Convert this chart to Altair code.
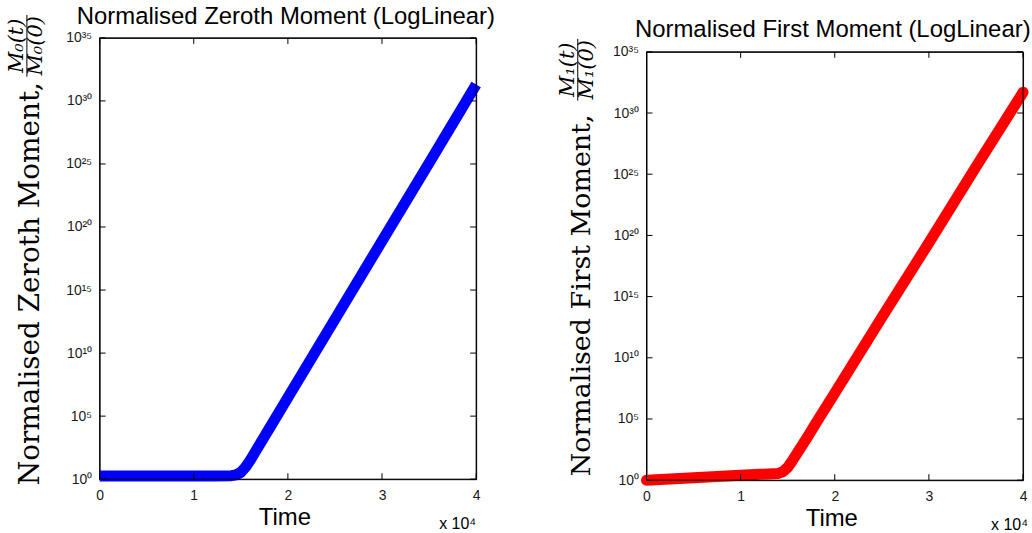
import json
import altair as alt
import pandas as pd

# Zeroth moment M0(t)/M0(0), sampled in time
time_zeroth = [0, 4000, 8000, 12000, 14000, 14500, 15000, 15500, 16000, 17000,
               18000, 20000, 25000, 30000, 35000, 40000]
zeroth = [1.8, 1.8, 1.8, 1.8, 1.9, 2.2, 3.5, 9.0, 32, 560,
          9.8e3, 3.0e6, 4.8e12, 7.8e18, 1.2e25, 2.0e31]

# First moment M1(t)/M1(0)
time_first = [0, 2000, 4000, 6000, 8000, 10000, 12000, 14000, 14500, 15000,
              15500, 16000, 17000, 18000, 20000, 25000, 30000, 35000, 40000]
first = [1.0, 1.2, 1.45, 1.75, 2.1, 2.5, 3.0, 3.5, 5.0, 11,
         40, 160, 2.5e3, 4.5e4, 1.3e7, 2.0e13, 2.5e19, 4.0e25, 5.0e31]

# Axis ticks and their labels
x_ticks = [0, 10000, 20000, 30000, 40000]
x_labels = ["0", "1", "2", "3", "4"]
y_ticks = [1e0, 1e5, 1e10, 1e15, 1e20, 1e25, 1e30, 1e35]
y_labels = ["10⁰", "10⁵", "10¹⁰", "10¹⁵", "10²⁰", "10²⁵", "10³⁰", "10³⁵"]

W = 378
SANS = "Liberation Sans"
SERIF = "DejaVu Serif"
TICK = 6

x_scale = alt.Scale(domain=[0, 40000], nice=False, zero=False)
y_scale = alt.Scale(type="log", domain=[1, 1e35], nice=False)

x_expr = json.dumps(x_labels, ensure_ascii=False) + "[round(datum.value / 10000)]"
y_expr = json.dumps(y_labels, ensure_ascii=False) + "[round(log(datum.value) / LN10 / 5)]"

x_axis = alt.Axis(values=x_ticks, labelExpr=x_expr, title=None, labelPadding=9,
                  labelFlush=False, grid=False, domain=False, ticks=False)
y_axis = alt.Axis(values=y_ticks, labelExpr=y_expr, title=None, labelPadding=8,
                  labelFlush=False, labelBaseline="middle", grid=False,
                  domain=False, ticks=False)


def text_layer(s, x, y, size, font=SANS, angle=0, align="center",
               baseline="alphabetic", style="normal"):
    return alt.Chart(pd.DataFrame({"s": [s]})).mark_text(
        font=font, fontSize=size, angle=angle, align=align, baseline=baseline,
        fontStyle=style, color="black"
    ).encode(text="s:N", x=alt.value(x), y=alt.value(y))


def panel(times, values, color, cap, H, title, title_y, label, label_x, label_y,
          label_size, num, den, frac_y, num_x, den_x, bar_x, exp_x):
    df = pd.DataFrame({"t": times, "v": values})
    line = alt.Chart(df).mark_line(
        color=color, strokeWidth=11, strokeCap=cap, strokeJoin="round", clip=False
    ).encode(
        x=alt.X("t:Q", scale=x_scale, axis=x_axis),
        y=alt.Y("v:Q", scale=y_scale, axis=y_axis),
    )

    ydf = pd.DataFrame({"v": y_ticks})
    xdf = pd.DataFrame({"t": x_ticks})
    ytick_l = alt.Chart(ydf).mark_rule(color="black").encode(
        y=alt.Y("v:Q", scale=y_scale, axis=y_axis), x=alt.value(0), x2=alt.value(TICK))
    ytick_r = alt.Chart(ydf).mark_rule(color="black").encode(
        y=alt.Y("v:Q", scale=y_scale, axis=y_axis), x=alt.value(W - TICK), x2=alt.value(W))
    xtick_b = alt.Chart(xdf).mark_rule(color="black").encode(
        x=alt.X("t:Q", scale=x_scale, axis=x_axis), y=alt.value(H - TICK), y2=alt.value(H))
    xtick_t = alt.Chart(xdf).mark_rule(color="black").encode(
        x=alt.X("t:Q", scale=x_scale, axis=x_axis), y=alt.value(0), y2=alt.value(TICK))

    # axes box drawn above the data line
    box = alt.Chart(pd.DataFrame({"a": [0]})).mark_rect(
        filled=False, stroke="black", strokeWidth=1
    ).encode(x=alt.value(0), x2=alt.value(W), y=alt.value(0), y2=alt.value(H))

    frac_len = 62
    bar = alt.Chart(pd.DataFrame({"a": [0]})).mark_rule(color="black", strokeWidth=1).encode(
        x=alt.value(bar_x), y=alt.value(frac_y - frac_len / 2), y2=alt.value(frac_y + frac_len / 2))

    layers = [
        line, box, ytick_l, ytick_r, xtick_b, xtick_t,
        text_layer(title, W / 2 - 2, title_y, 24),
        text_layer("Time", W / 2 - 3, H + 46, 24),
        text_layer("x 10⁴", exp_x, H + 50, 16, align="right"),
        text_layer(label, label_x, label_y, label_size, font=SERIF, angle=270, align="left"),
        text_layer(num, num_x, frac_y, 21, font=SERIF, angle=270, style="italic"),
        text_layer(den, den_x, frac_y, 21, font=SERIF, angle=270, style="italic"),
        bar,
    ]
    return alt.layer(*layers).properties(width=W, height=H)


left = panel(time_zeroth, zeroth, "#0000ff", "butt", 443,
             "Normalised Zeroth Moment (LogLinear)", -14,
             "Normalised Zeroth Moment,", -61, 449, 28,
             "M₀(t)", "M₀(0)", 8, -77, -58, -73, W)

right = panel(time_first, first, "#ff0000", "round", 430,
              "Normalised First Moment (LogLinear)", -15,
              "Normalised First Moment,", -57, 426, 27,
              "M₁(t)", "M₁(0)", 18, -73, -54, -69, W + 5)

spacer = alt.Chart(pd.DataFrame({"a": [0]})).mark_point(opacity=0).encode(
    x=alt.value(0), y=alt.value(0)
).properties(width=W, height=14, view=alt.ViewBackground(strokeOpacity=0))

chart = alt.hconcat(
    left,
    alt.vconcat(spacer, right, spacing=0, bounds="flush"),
    spacing=171, bounds="flush",
).properties(
    padding={"left": 5, "top": 3, "right": 0, "bottom": 0}
).configure_view(
    stroke="black", strokeWidth=1
).configure_axis(
    labelFont=SANS, labelFontSize=14, labelColor="#1a1a1a"
)

chart.save("out.html", embed_options={"renderer": "svg", "actions": False})
